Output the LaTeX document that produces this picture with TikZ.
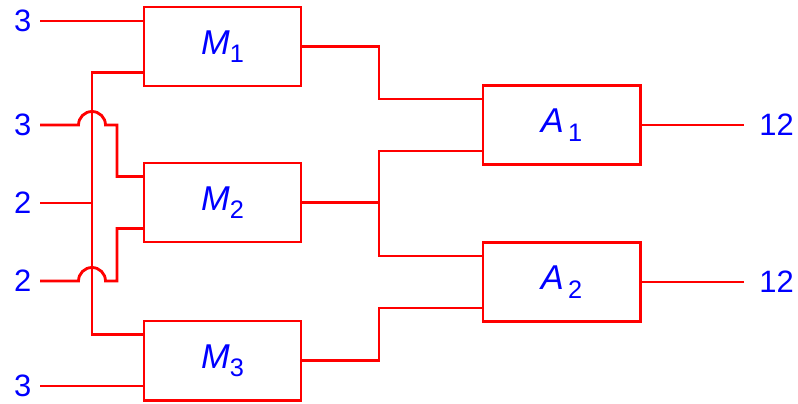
\documentclass[tikz,border=0pt]{standalone}
\usepackage{fontspec}
\setmainfont{Liberation Sans}
\usetikzlibrary{positioning,calc}

% block name with a lowered index
\newcommand{\blk}[3][0pt]{\textit{#2}\/\hspace{#1}\raisebox{-0.24em}{\fontsize{18}{18}\selectfont #3}}

\begin{document}
\begin{tikzpicture}[x=0.025cm, y=-0.025cm,
  box/.style={draw=red, line width=2pt, outer sep=0pt, minimum width=3.925cm, minimum height=1.975cm, text=blue, font=\fontsize{24.5}{24.5}\selectfont},
  wire/.style={red, line width=2pt},
  val/.style={text=blue, inner sep=0pt, font=\fontsize{22}{22}\selectfont}
]
\useasboundingbox (0,0) rectangle (798,403);

\node[box] (M1) at (222.5,46.5) {\blk{M}{1}};
\node[box, below=1.925cm of M1] (M2) {\blk{M}{2}};
\node[box, below=1.975cm of M2] (M3) {\blk{M}{3}};
\node[box, right=4.55cm of M1, yshift=-1.9625cm] (A1) {\blk[0.12em]{A}{1}};
\node[box, below=1.95cm of A1] (A2) {\blk[0.12em]{A}{2}};

% input pins of the blocks
\foreach \b in {M1,M2,M3,A1,A2}{
  \coordinate (\b u) at ([yshift=0.65cm]\b.west);
  \coordinate (\b d) at ([yshift=-0.65cm]\b.west);
}
\coordinate (bus) at (92,0);
\coordinate (turn) at (117,0);
\coordinate (mid) at (379,0);

\coordinate (in1) at (40,21);
\coordinate (in2) at (40,125);
\coordinate (in3) at (40,203);
\coordinate (in4) at (40,281);
\coordinate (in5) at (40,386);
\coordinate (out1) at ($(A1.east)+(104,0)$);
\coordinate (out2) at ($(A2.east)+(104,0)$);

\node[val, left=0.21cm of in1] (v1) {3};
\node[val, left=0.21cm of in2] (v2) {3};
\node[val, left=0.21cm of in3] (v3) {2};
\node[val, left=0.21cm of in4] (v4) {2};
\node[val, left=0.21cm of in5] (v5) {3};
\node[val, right=0.375cm of out1] (r1) {12};
\node[val, right=0.375cm of out2] (r2) {12};

% left side
\draw[wire] (in1) -- (in1 -| M1.west);
\draw[wire] (M1d) -- (M1d -| bus) -- (M3u -| bus) -- (M3u);
\draw[wire] (in3) -- (in3 -| bus);
\draw[wire] (in2) -- ($(in2 -| bus)+(-13.5,0)$) arc[start angle=180, end angle=0, radius=0.3375cm]
  -- (in2 -| turn) |- (M2u);
\draw[wire] (in4) -- ($(in4 -| bus)+(-13.5,0)$) arc[start angle=180, end angle=0, radius=0.3375cm]
  -- (in4 -| turn) |- (M2d);
\draw[wire] (in5) -- (in5 -| M3.west);

% middle
\draw[wire] (M1.east) -- (M1.east -| mid) |- (A1u);
\draw[wire] (M2.east) -- (M2.east -| mid);
\draw[wire] (A1d) -- (A1d -| mid) -- (A2u -| mid) -- (A2u);
\draw[wire] (M3.east) -- (M3.east -| mid) |- (A2d);

% outputs
\draw[wire] (A1.east) -- (out1);
\draw[wire] (A2.east) -- (out2);
\end{tikzpicture}
\end{document}
